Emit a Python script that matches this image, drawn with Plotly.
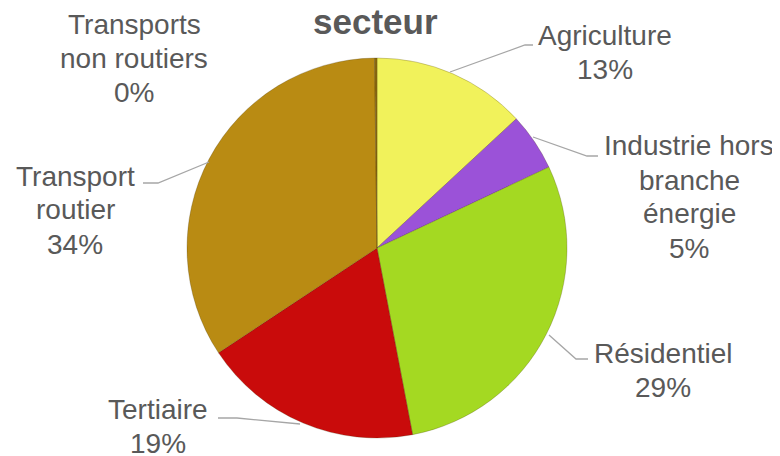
import plotly.graph_objects as go

W, H = 780, 456
OFFSET = 8  # page body margin of the browser

# Data
labels = ['Agriculture', 'Industrie hors branche énergie', 'Résidentiel',
          'Tertiaire', 'Transport routier', 'Transports non routiers']
values = [13.1, 4.9, 29.0, 18.7, 34.1, 0.2]
colors = ['#F1F25B', '#9B52D8', '#A4D922', '#C90B0B', '#B98B13', '#8C6A10']

# Label text lines (broken as in the original chart)
label_lines = [['Agriculture'], ['Industrie hors', 'branche', 'énergie'], ['Résidentiel'],
               ['Tertiaire'], ['Transport', 'routier'], ['Transports', 'non routiers']]

# Label block placement (pixel centre x, first-line y) and leader lines (pixels)
label_pos = [(605, 36), (689, 146), (663, 353), (158, 409), (75, 176), (134, 24)]
leaders = [
    [(450, 72), (525, 45), (533, 45)],
    [(533, 137), (587, 156), (598, 156)],
    [(549, 335), (576, 359), (588, 359)],
    [(300, 424), (237, 418), (218, 418)],
    [(209, 162), (158, 183), (143, 183)],
    None,
]

LINE_H = 34
TEXT_COLOR = '#595959'


def px(x, y):
    return (x - OFFSET) / W, 1 - (y - OFFSET) / H


total = sum(values)
fig = go.Figure()
x0, y0 = px(187, 438)
x1, y1 = px(567, 58)
fig.add_trace(go.Pie(
    labels=labels, values=values, sort=False, direction='clockwise', rotation=0,
    marker=dict(colors=colors, line=dict(color='rgba(60,40,0,0.3)', width=0.8)),
    textinfo='none', hoverinfo='label+percent', showlegend=False,
    domain=dict(x=[x0, x1], y=[y0, y1]),
))

annotations = []
for name, lines, val, (cx, cy) in zip(labels, label_lines, values, label_pos):
    all_lines = lines + [f'{round(val / total * 100)}%']
    for i, line in enumerate(all_lines):
        x, y = px(cx, cy + i * LINE_H)
        annotations.append(dict(x=x, y=y, xref='paper', yref='paper', text=line,
                                showarrow=False, xanchor='center', yanchor='middle',
                                font=dict(family='Liberation Sans, Arial', size=28, color=TEXT_COLOR)))

# Title (only last word visible in the original crop)
tx, ty = px(375, 22)
annotations.append(dict(x=tx, y=ty, xref='paper', yref='paper', text='<b>secteur</b>',
                        showarrow=False, xanchor='center', yanchor='middle',
                        font=dict(family='Liberation Sans, Arial', size=35, color=TEXT_COLOR)))

shapes = []
for pts in leaders:
    if not pts:
        continue
    path = 'M ' + ' L '.join(f'{px(x, y)[0]:.5f},{px(x, y)[1]:.5f}' for x, y in pts)
    shapes.append(dict(type='path', path=path, xref='paper', yref='paper',
                       line=dict(color='#A6A6A6', width=1.3)))

fig.update_layout(
    width=W, height=H,
    margin=dict(l=0, r=0, t=0, b=0),
    paper_bgcolor='white', plot_bgcolor='white',
    annotations=annotations, shapes=shapes,
)

fig.write_html('out.html')
